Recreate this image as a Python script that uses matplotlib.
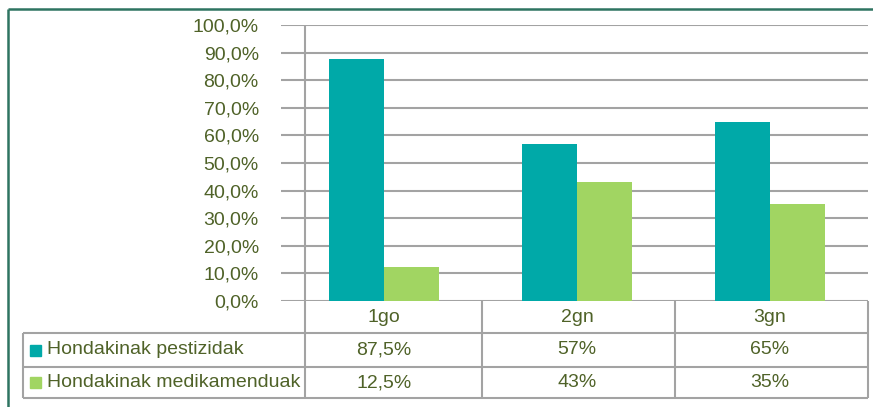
import matplotlib
matplotlib.use("Agg")
import matplotlib.pyplot as plt
from matplotlib.lines import Line2D
from matplotlib.patches import Rectangle

# ---- data ----
categories = ["1go", "2gn", "3gn"]
series_names = ["Hondakinak pestizidak", "Hondakinak medikamenduak"]
pestizidak = [87.5, 57, 65]
medikamenduak = [12.5, 43, 35]
yticks = [0, 10, 20, 30, 40, 50, 60, 70, 80, 90, 100]

# ---- style ----
TEAL = "#00A9A8"
GREEN = "#A1D562"
TXT = "#4F6228"
GRID = "#A3A3A3"
BORDER = "#2E7461"
W, H = 873, 407
plt.rcParams["font.family"] = ["Liberation Sans", "DejaVu Sans"]
FS = 14

fig = plt.figure(figsize=(W / 100, H / 100), dpi=100)
fig.patch.set_facecolor("white")

def fx(px):
    return px / W

def fy(py):
    return 1 - py / H

# main plot axes: pixel x 281..868, y 25..301
x0, x1, y0, y1 = 281, 868, 25, 301
ax = fig.add_axes([fx(x0), fy(y1), fx(x1) - fx(x0), fy(y0) - fy(y1)])
# category centres at 384, 577, 770 px -> 193 px per category
step = 193.0
c0 = 384.0
ax.set_xlim((x0 - c0) / step, (x1 - c0) / step)
ax.set_ylim(0, 100)
for s in ax.spines.values():
    s.set_visible(False)
ax.set_xticks([])
ax.set_yticks(yticks)
ax.set_yticklabels([("%.1f" % v).replace(".", ",") + "%" for v in yticks],
                   fontsize=FS, color=TXT)
ax.tick_params(axis="y", length=0, pad=16)
ax.set_axisbelow(True)
ax.yaxis.grid(True, color=GRID, linewidth=1.5)
ax.patch.set_alpha(0)

bw = 55.0 / step
xs = list(range(len(categories)))
ax.bar([x - bw / 2 for x in xs], pestizidak, width=bw, color=TEAL, zorder=3)
ax.bar([x + bw / 2 for x in xs], medikamenduak, width=bw, color=GREEN, zorder=3)

# overlay axes in pixel coordinates for the data table and border
ov = fig.add_axes([0, 0, 1, 1], zorder=5)
ov.set_xlim(0, W)
ov.set_ylim(H, 0)
ov.axis("off")
ov.patch.set_alpha(0)

def line(xa, ya, xb, yb, color=GRID, lw=1.5):
    ov.add_line(Line2D([xa, xb], [ya, yb], color=color, linewidth=lw,
                       solid_capstyle="butt"))

# table geometry
rows_y = [301, 333, 367, 398]
col_x = [305, 482, 675, 868]
left_x = 23
# vertical axis line through plot and table
line(305, 25, 305, 398)
# horizontal lines
line(left_x, rows_y[1], col_x[-1], rows_y[1])
line(left_x, rows_y[2], col_x[-1], rows_y[2])
line(left_x, rows_y[3], col_x[-1], rows_y[3])
# vertical lines
line(left_x, rows_y[1], left_x, rows_y[3])
for cx in col_x[1:]:
    line(cx, rows_y[0], cx, rows_y[3])

def fmt(v):
    if float(v).is_integer():
        return "%d%%" % v
    return ("%.1f" % v).replace(".", ",") + "%"

centers = [c0 + i * step for i in range(len(categories))]
row_c = [(rows_y[i] + rows_y[i + 1]) / 2 for i in range(3)]
for cx, cat in zip(centers, categories):
    ov.text(cx, row_c[0], cat, ha="center", va="center", fontsize=FS, color=TXT)
for r, (name, vals, col) in enumerate(zip(series_names, [pestizidak, medikamenduak],
                                         [TEAL, GREEN])):
    yc = row_c[r + 1]
    ov.add_patch(Rectangle((30, yc - 5.5), 11, 11, color=col))
    ov.text(47, yc, name, ha="left", va="center", fontsize=FS, color=TXT)
    for cx, v in zip(centers, vals):
        ov.text(cx, yc, fmt(v), ha="center", va="center", fontsize=FS, color=TXT)

# outer border (left and top)
line(7.5, 8.5, W, 8.5, color=BORDER, lw=1.8)
line(7.5, 8.5, 7.5, H, color=BORDER, lw=1.8)

fig.savefig("out.png", dpi=100, facecolor="white")
